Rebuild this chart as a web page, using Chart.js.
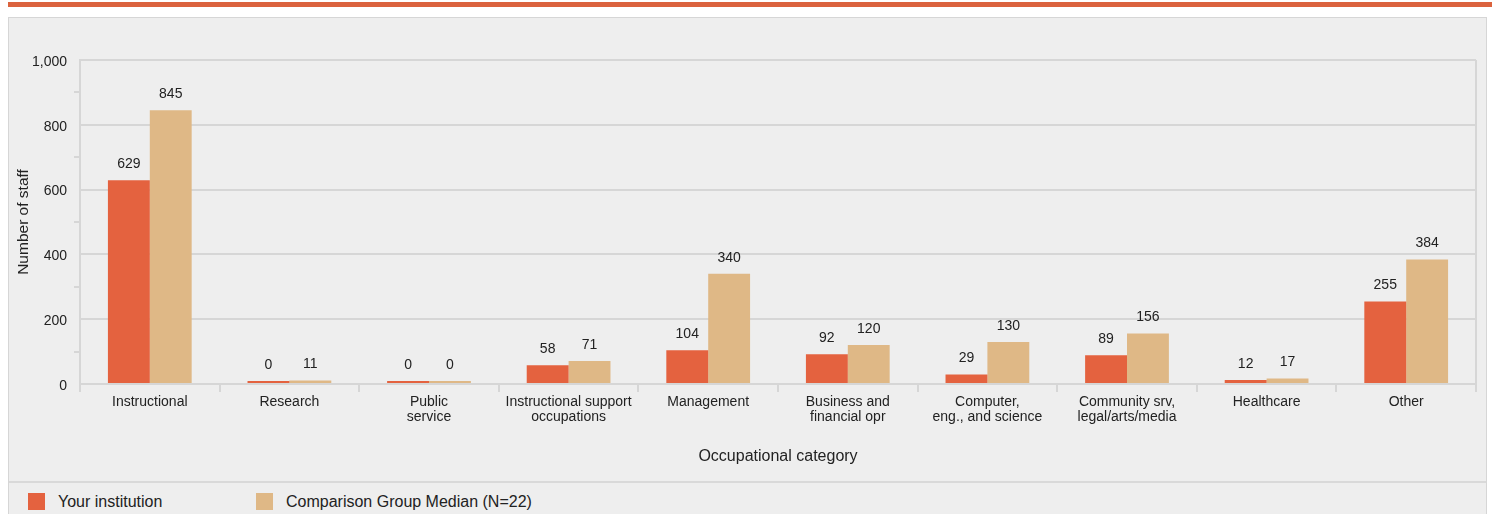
<!DOCTYPE html>
<html>
<head>
<meta charset="utf-8">
<script src="https://cdn.jsdelivr.net/npm/chart.js@4.4.1/dist/chart.umd.min.js"></script>
<style>
    body { margin: 0; background: #fff; font-family: "Liberation Sans", Arial, sans-serif; }
    #wrap { position: relative; width: 1492px; height: 514px; overflow: hidden; }
    #topbar { position: absolute; left: 8px; top: 2px; width: 1484px; height: 5px; background: #db633e; }
    #panel { position: absolute; left: 8px; top: 17px; width: 1477px; height: 520px; background: #eeeeee; border: 1px solid #d6d6d6; }
    #sep { position: absolute; left: 9px; top: 481px; width: 1477px; height: 2px; background: #d9d9d9; }
    #grafico { position: absolute; left: 0; top: 0; }
    #legenda { position: absolute; left: 0; top: 493px; height: 17px; }
    .item { position: absolute; top: 0; white-space: nowrap; font-size: 16px; color: #222; line-height: 17px; }
    .caixa { position: absolute; left: 0; top: 0; width: 17px; height: 17px; }
    .item span { position: absolute; left: 30px; top: 0; }
</style>
</head>
<body>
<div id="wrap">
    <div id="topbar"></div>
    <div id="panel"></div>
    <div id="sep"></div>
    <canvas id="grafico" width="1492" height="482"></canvas>
    <div id="legenda"></div>
</div>
<script>
const categorias = [
    ['Instructional'],
    ['Research'],
    ['Public', 'service'],
    ['Instructional support', 'occupations'],
    ['Management'],
    ['Business and', 'financial opr'],
    ['Computer,', 'eng., and science'],
    ['Community srv,', 'legal/arts/media'],
    ['Healthcare'],
    ['Other']
];
const suaInstituicao = [629, 0, 0, 58, 104, 92, 29, 89, 12, 255];
const medianaGrupo = [845, 11, 0, 71, 340, 120, 130, 156, 17, 384];
const nomesSeries = ['Your institution', 'Comparison Group Median (N=22)'];
const coresSeries = ['#e4623f', '#dfb886'];
const legendaX = [28, 256];

const cinza = '#d6d6d6';
const fonte = '"Liberation Sans", Arial, sans-serif';

// numeros em cima das barras
const rotulos = {
    id: 'rotulos',
    afterDatasetsDraw(chart) {
        const ctx = chart.ctx;
        ctx.save();
        ctx.font = '14px ' + fonte;
        ctx.fillStyle = '#222';
        ctx.textAlign = 'center';
        ctx.textBaseline = 'middle';
        chart.data.datasets.forEach((ds, i) => {
            chart.getDatasetMeta(i).data.forEach((bar, j) => {
                ctx.fillText(ds.data[j].toLocaleString('en-US'), bar.x, bar.y - 16);
            });
        });
        ctx.restore();
    }
};

const ctx = document.getElementById('grafico').getContext('2d');
new Chart(ctx, {
    type: 'bar',
    data: {
        labels: categorias,
        datasets: [
            { label: nomesSeries[0], data: suaInstituicao, backgroundColor: coresSeries[0] },
            { label: nomesSeries[1], data: medianaGrupo, backgroundColor: coresSeries[1] }
        ]
    },
    options: {
        responsive: false,
        animation: false,
        devicePixelRatio: 1,
        layout: { padding: { top: 60, right: 16, left: 0, bottom: 0 } },
        datasets: { bar: { categoryPercentage: 0.6, barPercentage: 1, minBarLength: 3 } },
        plugins: { legend: { display: false }, tooltip: { enabled: false } },
        scales: {
            x: {
                afterFit: s => { s.height = 98; },
                grid: {
                    offset: true,
                    drawOnChartArea: true,
                    color: c => c.type === 'tick' ? 'transparent' : cinza,
                    lineWidth: 2,
                    tickColor: cinza,
                    tickLength: 8
                },
                border: { color: cinza, width: 2 },
                ticks: { color: '#222', font: { family: fonte, size: 14, lineHeight: 1.1 }, padding: 2, maxRotation: 0, autoSkip: false },
                title: { display: true, text: 'Occupational category', color: '#222', font: { family: fonte, size: 16 }, padding: { top: 0, bottom: 16 } }
            },
            y: {
                min: 0,
                max: 1000,
                afterFit: s => { s.width = 80; },
                grid: {
                    color: c => c.tick.value % 200 === 0 ? cinza : 'transparent',
                    tickColor: c => c.tick.value % 200 === 0 ? 'transparent' : cinza,
                    lineWidth: 2,
                    tickLength: 6
                },
                border: { color: cinza, width: 2 },
                ticks: {
                    stepSize: 100,
                    padding: 7,
                    labelOffset: 2,
                    color: '#222',
                    font: { family: fonte, size: 14 },
                    callback: v => v % 200 === 0 ? v.toLocaleString('en-US') : ''
                },
                title: { display: true, text: 'Number of staff', color: '#222', font: { family: fonte, size: 15.5 }, padding: { top: 14, bottom: 0 } }
            }
        }
    },
    plugins: [rotulos]
});

// legenda em html
const legenda = document.getElementById('legenda');
nomesSeries.forEach((nome, i) => {
    const item = document.createElement('div');
    item.className = 'item';
    item.style.left = legendaX[i] + 'px';
    item.innerHTML = `<div class="caixa" style="background:${coresSeries[i]}"></div><span>${nome}</span>`;
    legenda.appendChild(item);
});
</script>
</body>
</html>
